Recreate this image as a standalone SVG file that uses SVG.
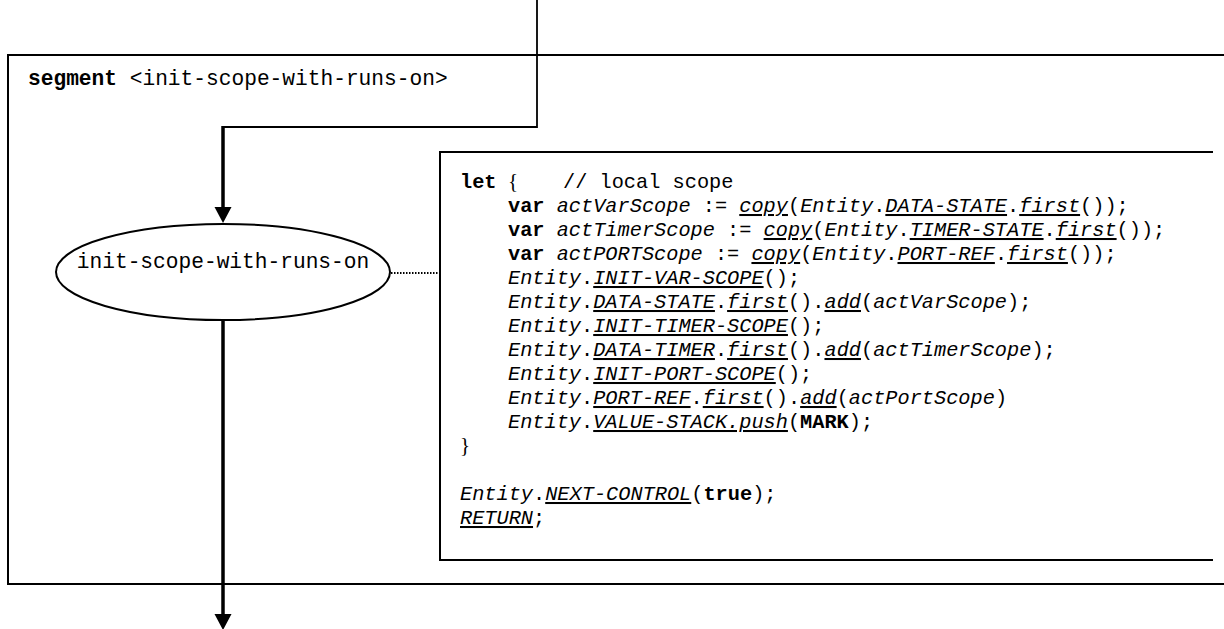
<svg xmlns="http://www.w3.org/2000/svg" width="1224" height="629" viewBox="0 0 1224 629">
<style>
.frame{fill:none;stroke:#000;stroke-width:2}
.thin{fill:none;stroke:#000;stroke-width:1.8}
.thick{fill:none;stroke:#000;stroke-width:3.5}
.dot{fill:none;stroke:#000;stroke-width:2;stroke-dasharray:1.5 1.5}
.m{font-family:"Liberation Mono","Courier New",monospace;font-size:20.3px;fill:#000}
.t{font-family:"Liberation Mono","Courier New",monospace;font-size:21.2px;fill:#000}
.br{font-family:"Liberation Serif","Times New Roman",serif;font-size:21px;fill:#000}
.b{font-weight:bold}
.i{font-style:italic}
.u{text-decoration:underline}
</style>
<defs>
<marker id="arr" markerUnits="userSpaceOnUse" markerWidth="17" markerHeight="17" refX="0" refY="8.5" orient="auto" overflow="visible">
<path d="M0,0 L16,8.5 L0,17 Z" fill="#000"/>
</marker>
</defs>
<rect width="1224" height="629" fill="#fff"/>
<g id="segment-frame">
<path class="frame" d="M1230,55 H8 V584 H1230"/>
<text class="t" x="28" y="85"><tspan class="b">segment</tspan> &lt;init-scope-with-runs-on&gt;</text>
</g>
<g id="node-init-scope">
<ellipse class="frame" cx="223" cy="272" rx="167" ry="48"/>
<text class="t" x="223" y="268" text-anchor="middle">init-scope-with-runs-on</text>
</g>
<g id="code-box">
<path class="frame" d="M1213,152 H440 V560 H1213"/>
<text class="m b" x="460" y="188">let</text>
<text class="br" x="508" y="188">{</text>
<text class="m" x="563" y="188">// local scope</text>
<text class="m" x="508" y="212"><tspan class="b">var</tspan> <tspan class="i">actVarScope</tspan> := <tspan class="i u">copy</tspan>(<tspan class="i">Entity</tspan>.<tspan class="i u">DATA-STATE</tspan>.<tspan class="i u">first</tspan>());</text>
<text class="m" x="508" y="236"><tspan class="b">var</tspan> <tspan class="i">actTimerScope</tspan> := <tspan class="i u">copy</tspan>(<tspan class="i">Entity</tspan>.<tspan class="i u">TIMER-STATE</tspan>.<tspan class="i u">first</tspan>());</text>
<text class="m" x="508" y="260"><tspan class="b">var</tspan> <tspan class="i">actPORTScope</tspan> := <tspan class="i u">copy</tspan>(<tspan class="i">Entity</tspan>.<tspan class="i u">PORT-REF</tspan>.<tspan class="i u">first</tspan>());</text>
<text class="m" x="508" y="284"><tspan class="i">Entity</tspan>.<tspan class="i u">INIT-VAR-SCOPE</tspan>();</text>
<text class="m" x="508" y="308"><tspan class="i">Entity</tspan>.<tspan class="i u">DATA-STATE</tspan>.<tspan class="i u">first</tspan>().<tspan class="i u">add</tspan>(<tspan class="i">actVarScope</tspan>);</text>
<text class="m" x="508" y="332"><tspan class="i">Entity</tspan>.<tspan class="i u">INIT-TIMER-SCOPE</tspan>();</text>
<text class="m" x="508" y="356"><tspan class="i">Entity</tspan>.<tspan class="i u">DATA-TIMER</tspan>.<tspan class="i u">first</tspan>().<tspan class="i u">add</tspan>(<tspan class="i">actTimerScope</tspan>);</text>
<text class="m" x="508" y="380"><tspan class="i">Entity</tspan>.<tspan class="i u">INIT-PORT-SCOPE</tspan>();</text>
<text class="m" x="508" y="404"><tspan class="i">Entity</tspan>.<tspan class="i u">PORT-REF</tspan>.<tspan class="i u">first</tspan>().<tspan class="i u">add</tspan>(<tspan class="i">actPortScope</tspan>)</text>
<text class="m" x="508" y="428"><tspan class="i">Entity</tspan>.<tspan class="i u">VALUE-STACK.push</tspan>(<tspan class="b">MARK</tspan>);</text>
<text class="br" x="460" y="452">}</text>
<text class="m" x="460" y="500"><tspan class="i">Entity</tspan>.<tspan class="i u">NEXT-CONTROL</tspan>(<tspan class="b">true</tspan>);</text>
<text class="m" x="460" y="524"><tspan class="i u">RETURN</tspan>;</text>
</g>
<g id="connectors">
<path class="thin" d="M537,0 V127 H223"/>
<path class="thick" d="M223,126 V207" marker-end="url(#arr)"/>
<path class="thick" d="M223,320 V614" marker-end="url(#arr)"/>
<path class="dot" d="M391,273 H440"/>
</g>
</svg>
